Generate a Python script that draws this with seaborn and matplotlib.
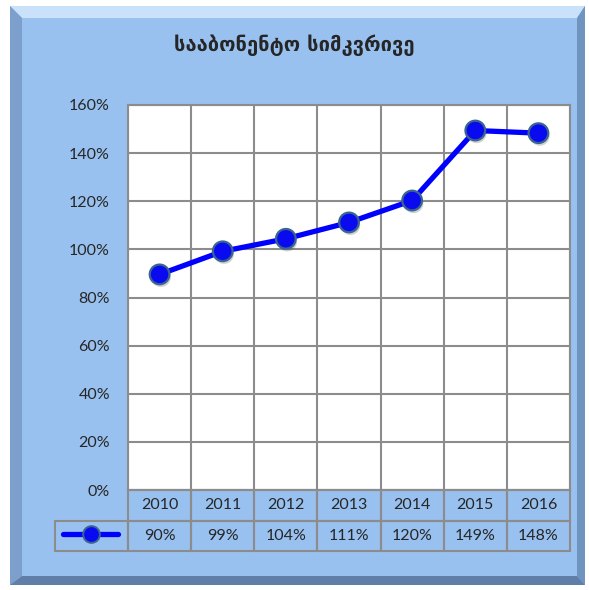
import numpy as np
import pandas as pd
import matplotlib
matplotlib.use("Agg")
import matplotlib.pyplot as plt
import matplotlib.patheffects as pe
from matplotlib.patches import Polygon
import seaborn as sns

# =========================
# DATA
# =========================

title = "სააბონენტო სიმკვრივე"
years = ["2010", "2011", "2012", "2013", "2014", "2015", "2016"]
density = [89.6, 99.2, 104.4, 111.2, 120.3, 149.4, 148.3]
density_labels = ["90%", "99%", "104%", "111%", "120%", "149%", "148%"]
y_ticks = [0, 20, 40, 60, 80, 100, 120, 140, 160]

df = pd.DataFrame({"year": years, "density": density})

# =========================
# STYLE
# =========================

sns.set_style("white")
plt.rcParams["font.family"] = ["Lato", "DejaVu Sans"]

panel = "#99C1F0"
grid_col = "#8C8C8C"
line_col = "#0000FF"
fs = 11.5

W, H = 589, 590
fig = plt.figure(figsize=(W / 100, H / 100), dpi=100)
fig.patch.set_facecolor("white")


def fp(pts):
    return [(x / W, 1 - y / H) for x, y in pts]


def bevel(pts, color):
    fig.add_artist(Polygon(fp(pts), closed=True, transform=fig.transFigure,
                           facecolor=color, edgecolor="none", zorder=-5))


# bevelled blue panel
L, T, R, B = 10, 6, 585, 585
L2, T2, R2, B2 = 22, 18, 577, 576
bevel([(L, T), (R, T), (R, B), (L, B)], panel)
bevel([(L, T), (R, T), (R2, T2), (L2, T2)], "#C9E2FA")
bevel([(L, T), (L2, T2), (L2, B2), (L, B)], "#7C9FCB")
bevel([(R, T), (R, B), (R2, B2), (R2, T2)], "#7094C0")
bevel([(L, B), (R, B), (R2, B2), (L2, B2)], "#5F7FA8")

# =========================
# PLOT
# =========================

ax = fig.add_axes([128 / W, 1 - 490 / H, 442 / W, 385 / H])
ax.set_facecolor("white")

sns.lineplot(data=df, x="year", y="density", ax=ax, color=line_col,
             linewidth=3.8, sort=False, zorder=3)
pts = sns.scatterplot(data=df, x="year", y="density", ax=ax, s=200,
                      color="#0A0AF0", edgecolor="#3A6591", linewidth=1.6,
                      zorder=4, legend=False)
pts.collections[-1].set_path_effects([
    pe.SimplePatchShadow(offset=(1, -2), alpha=0.22, shadow_rgbFace="#303030"),
    pe.Normal()])

ax.set_xlim(-0.5, len(years) - 0.5)
ax.set_ylim(0, 160)
ax.set_yticks(y_ticks)
ax.set_yticklabels([f"{v}%" for v in y_ticks], fontsize=fs)
ax.set_xticks([])
ax.set_xticks(np.arange(-0.5, len(years), 1), minor=True)
ax.tick_params(axis="both", which="both", length=0, pad=13)
ax.grid(True, axis="y", color=grid_col, linewidth=1.5)
ax.grid(True, axis="x", which="minor", color=grid_col, linewidth=1.5)
ax.set_axisbelow(True)
ax.set_xlabel("")
ax.set_ylabel("")
for s in ax.spines.values():
    s.set_color(grid_col)
    s.set_linewidth(1.5)

# =========================
# DATA TABLE
# =========================

first_w = 73 / 442
cell_text = [[""] + years, [""] + density_labels]
tbl = ax.table(cellText=cell_text, cellLoc="center",
               colWidths=[first_w] + [1 / 7] * 7,
               bbox=[-first_w, -61 / 385, 1 + first_w, 61 / 385])
tbl.auto_set_font_size(False)
tbl.set_fontsize(fs)
for (r, c), cell in tbl.get_celld().items():
    cell.set_facecolor("none")
    cell.set_edgecolor(grid_col)
    cell.set_linewidth(1.5)
    if r == 0 and c == 0:
        cell.visible_edges = "open"

# legend key inside the first cell of the value row
leg_line = plt.Line2D([], [], color=line_col, linewidth=3.8, marker="o",
                      markersize=12, markerfacecolor="#0A0AF0",
                      markeredgecolor="#3A6591", markeredgewidth=1.4)
ax.legend([leg_line], [""], loc="center",
          bbox_to_anchor=(-first_w / 2 - 0.002, -45.5 / 385),
          frameon=False, handlelength=3.4, handletextpad=0, numpoints=1,
          borderpad=0, fontsize=fs)

fig.text(0.5, 1 - 45 / H, title, ha="center", va="center", fontsize=14.5,
         fontweight="bold", family=["DejaVu Sans"])

plt.savefig("out.png", dpi=100)
